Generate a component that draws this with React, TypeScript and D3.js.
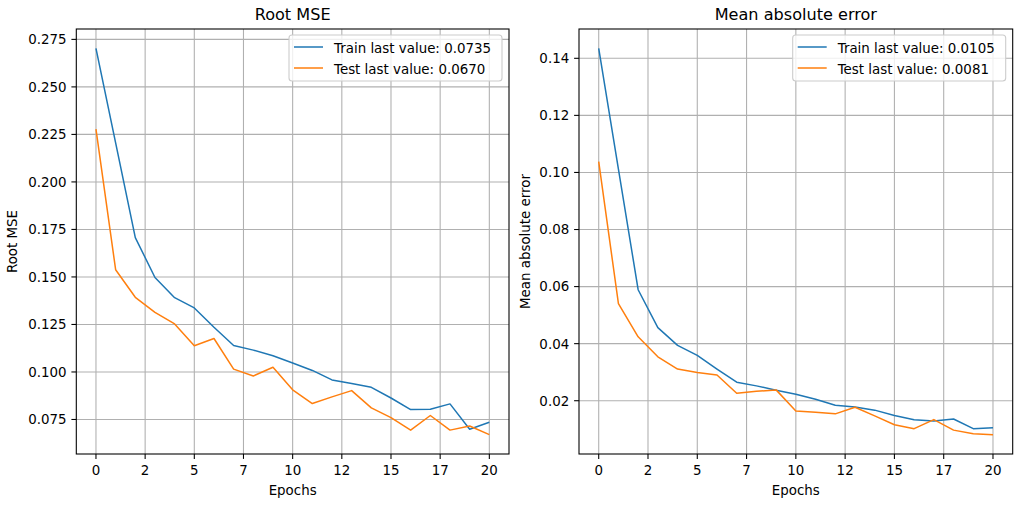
import React, { useEffect, useRef } from "react";
import * as d3 from "d3";

// epochs 0..20
const epochs = [0, 1, 2, 3, 4, 5, 6, 7, 8, 9, 10, 11, 12, 13, 14, 15, 16, 17, 18, 19, 20];

const rmseTrain = [
  0.2703, 0.2205, 0.1707, 0.1497, 0.1391, 0.1337, 0.1235, 0.1139, 0.1115, 0.1085, 0.1047,
  0.1008, 0.0958, 0.0939, 0.0919, 0.0863, 0.0802, 0.0804, 0.0832, 0.0699, 0.0735,
];
const rmseTest = [
  0.2278, 0.1538, 0.1393, 0.1314, 0.1253, 0.1138, 0.1176, 0.1015, 0.0979, 0.1025, 0.0906,
  0.0834, 0.0869, 0.0902, 0.0811, 0.0760, 0.0694, 0.0771, 0.0694, 0.0716, 0.0670,
];
const maeTrain = [
  0.1435, 0.1012, 0.0589, 0.0456, 0.0394, 0.0359, 0.0311, 0.0265, 0.0252, 0.0237, 0.0223,
  0.0205, 0.0184, 0.0178, 0.0167, 0.0148, 0.0133, 0.0129, 0.0136, 0.0102, 0.0105,
];
const maeTest = [
  0.1038, 0.0540, 0.0424, 0.0354, 0.0311, 0.0299, 0.0290, 0.0226, 0.0233, 0.0238, 0.0164,
  0.0160, 0.0154, 0.0177, 0.0147, 0.0116, 0.0102, 0.0134, 0.0097, 0.0084, 0.0081,
];

const xTicks = [0, 2.5, 5, 7.5, 10, 12.5, 15, 17.5, 20];
const rmseTicks = [0.075, 0.1, 0.125, 0.15, 0.175, 0.2, 0.225, 0.25, 0.275];
const maeTicks = [0.02, 0.04, 0.06, 0.08, 0.1, 0.12, 0.14];

const trainColor = "#1f77b4";
const testColor = "#ff7f0e";
const font = "DejaVu Sans, sans-serif";

interface PanelSpec {
  title: string;
  ylabel: string;
  train: number[];
  test: number[];
  yTicks: number[];
  yFormat: string;
  left: number;
  right: number;
  ylabelX: number;
}

const panels: PanelSpec[] = [
  {
    title: "Root MSE",
    ylabel: "Root MSE",
    train: rmseTrain,
    test: rmseTest,
    yTicks: rmseTicks,
    yFormat: ".3f",
    left: 76.3,
    right: 509,
    ylabelX: 17,
  },
  {
    title: "Mean absolute error",
    ylabel: "Mean absolute error",
    train: maeTrain,
    test: maeTest,
    yTicks: maeTicks,
    yFormat: ".2f",
    left: 579,
    right: 1012.7,
    ylabelX: 529.5,
  },
];

const top = 29;
const bottom = 454;

const App: React.FC = () => {
  const ref = useRef<SVGSVGElement>(null);

  useEffect(() => {
    const svg = d3.select(ref.current);
    svg.selectAll("*").remove();

    panels.forEach((p) => {
      const x = d3.scaleLinear().domain([-1, 21]).range([p.left, p.right]);
      const all = p.train.concat(p.test);
      const [lo, hi] = d3.extent(all) as [number, number];
      const pad = (hi - lo) * 0.05; // matplotlib default margin
      const y = d3.scaleLinear().domain([lo - pad, hi + pad]).range([bottom, top]);

      const g = svg.append("g");

      // grid
      g.selectAll(".gx")
        .data(xTicks)
        .enter()
        .append("line")
        .attr("x1", (d) => x(d))
        .attr("x2", (d) => x(d))
        .attr("y1", top)
        .attr("y2", bottom)
        .attr("stroke", "#b0b0b0")
        .attr("stroke-width", 1.08);
      g.selectAll(".gy")
        .data(p.yTicks)
        .enter()
        .append("line")
        .attr("x1", p.left)
        .attr("x2", p.right)
        .attr("y1", (d) => y(d))
        .attr("y2", (d) => y(d))
        .attr("stroke", "#b0b0b0")
        .attr("stroke-width", 1.08);

      // lines
      const line = d3
        .line<number>()
        .x((_, i) => x(epochs[i]))
        .y((d) => y(d));
      g.append("path")
        .datum(p.train)
        .attr("fill", "none")
        .attr("stroke", trainColor)
        .attr("stroke-width", 1.5)
        .attr("stroke-linejoin", "round")
        .attr("d", line);
      g.append("path")
        .datum(p.test)
        .attr("fill", "none")
        .attr("stroke", testColor)
        .attr("stroke-width", 1.5)
        .attr("stroke-linejoin", "round")
        .attr("d", line);

      // spines
      g.append("rect")
        .attr("x", p.left)
        .attr("y", top)
        .attr("width", p.right - p.left)
        .attr("height", bottom - top)
        .attr("fill", "none")
        .attr("stroke", "#000")
        .attr("stroke-width", 1.08);

      // x ticks
      xTicks.forEach((t) => {
        g.append("line")
          .attr("x1", x(t))
          .attr("x2", x(t))
          .attr("y1", bottom)
          .attr("y2", bottom + 4.9)
          .attr("stroke", "#000")
          .attr("stroke-width", 1.08);
        g.append("text")
          .attr("x", x(t))
          .attr("y", 475)
          .attr("text-anchor", "middle")
          .attr("font-family", font)
          .attr("font-size", 13.4)
          .attr("fill", "#000")
          .text(String(Math.floor(t)));
      });

      // y ticks
      const fmt = d3.format(p.yFormat);
      p.yTicks.forEach((t) => {
        g.append("line")
          .attr("x1", p.left - 4.9)
          .attr("x2", p.left)
          .attr("y1", y(t))
          .attr("y2", y(t))
          .attr("stroke", "#000")
          .attr("stroke-width", 1.08);
        g.append("text")
          .attr("x", p.left - 9.8)
          .attr("y", y(t) + 4.9)
          .attr("text-anchor", "end")
          .attr("font-family", font)
          .attr("font-size", 13.4)
          .attr("fill", "#000")
          .text(fmt(t));
      });

      // title and axis labels
      const cx = (p.left + p.right) / 2;
      g.append("text")
        .attr("x", cx)
        .attr("y", 20)
        .attr("text-anchor", "middle")
        .attr("font-family", font)
        .attr("font-size", 16.1)
        .text(p.title);
      g.append("text")
        .attr("x", cx)
        .attr("y", 495)
        .attr("text-anchor", "middle")
        .attr("font-family", font)
        .attr("font-size", 13.4)
        .text("Epochs");
      g.append("text")
        .attr("transform", `translate(${p.ylabelX},${(top + bottom) / 2}) rotate(-90)`)
        .attr("text-anchor", "middle")
        .attr("font-family", font)
        .attr("font-size", 13.4)
        .text(p.ylabel);

      // legend
      const lw = 213;
      const lx = p.right - 7 - lw;
      const ly = top + 6;
      const leg = g.append("g");
      leg
        .append("rect")
        .attr("x", lx)
        .attr("y", ly)
        .attr("width", lw)
        .attr("height", 46)
        .attr("rx", 3)
        .attr("fill", "#fff")
        .attr("fill-opacity", 0.8)
        .attr("stroke", "#cccccc")
        .attr("stroke-width", 1.08);
      const entries = [
        { label: `Train last value: ${p.train[p.train.length - 1].toFixed(4)}`, color: trainColor },
        { label: `Test last value: ${p.test[p.test.length - 1].toFixed(4)}`, color: testColor },
      ];
      entries.forEach((e, i) => {
        const ry = ly + 12 + i * 21;
        leg
          .append("line")
          .attr("x1", lx + 5)
          .attr("x2", lx + 34)
          .attr("y1", ry)
          .attr("y2", ry)
          .attr("stroke", e.color)
          .attr("stroke-width", 1.5);
        leg
          .append("text")
          .attr("x", lx + 45)
          .attr("y", ry + 5.8)
          .attr("font-family", font)
          .attr("font-size", 13.4)
          .attr("fill", "#000")
          .text(e.label);
      });
    });
  }, []);

  return (
    <div style={{ position: "absolute", left: 0, top: 0 }}>
      <svg ref={ref} width={1021} height={505} style={{ display: "block", background: "#fff" }} />
    </div>
  );
};

export default App;
